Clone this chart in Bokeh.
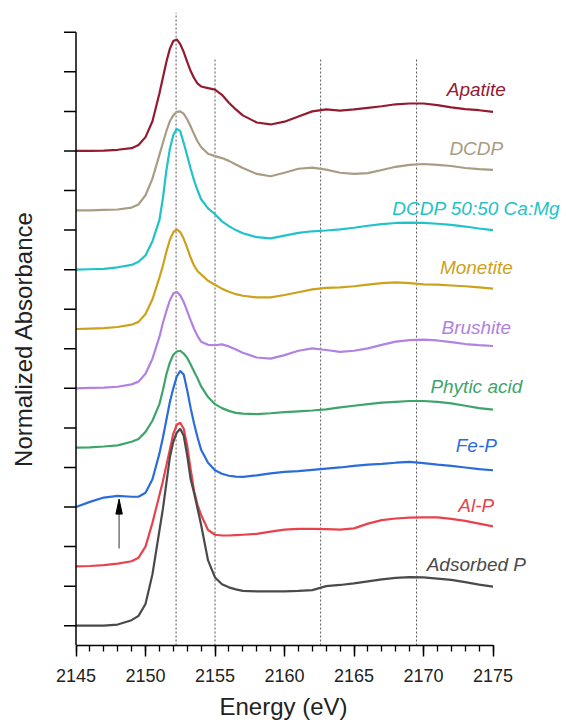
import math
from bokeh.plotting import figure
from bokeh.models import Range1d, SingleIntervalTicker, ColumnDataSource
from bokeh.embed import file_html
from bokeh.resources import INLINE
from bokeh.core.properties import value

# Photon energy grid (eV), denser across the white line
energy = [2145, 2146, 2147, 2148, 2149, 2149.5, 2150, 2150.5, 2151, 2151.25, 2151.5,
          2151.75, 2152, 2152.25, 2152.5, 2152.75, 2153, 2153.25, 2153.5, 2153.75,
          2154, 2154.5, 2155, 2155.5, 2156, 2156.5, 2157, 2158, 2159, 2160, 2161,
          2162, 2163, 2164, 2165, 2166, 2167, 2168, 2169, 2170, 2171, 2172, 2173,
          2174, 2175]

# Normalized absorbance of each reference spectrum (before vertical stacking)
apatite = [0, 0.0, 0.01, 0.03, 0.07, 0.15, 0.35, 0.75, 1.45, 1.85, 2.25,
           2.58, 2.78, 2.82, 2.7, 2.5, 2.25, 2.02, 1.84, 1.7,
           1.63, 1.59, 1.55, 1.42, 1.22, 1.05, 0.9, 0.72, 0.67, 0.74, 0.87,
           1.0, 1.05, 1.02, 1.05, 1.09, 1.13, 1.18, 1.2, 1.2, 1.16, 1.1, 1.06,
           1.03, 0.99]
dcdp = [0, 0, 0.01, 0.02, 0.07, 0.15, 0.38, 0.8, 1.4, 1.7, 2.0,
        2.25, 2.4, 2.49, 2.5, 2.44, 2.3, 2.12, 1.92, 1.74,
        1.6, 1.43, 1.37, 1.32, 1.25, 1.16, 1.07, 0.92, 0.86, 0.95, 1.05,
        1.08, 1.03, 0.95, 0.92, 0.94, 1.02, 1.1, 1.15, 1.17, 1.15, 1.12, 1.07,
        1.04, 1.02]
dcdp_camg = [0, 0.01, 0.02, 0.06, 0.12, 0.2, 0.36, 0.72, 1.25, 1.8, 2.5,
             3.05, 3.4, 3.56, 3.5, 3.2, 2.88, 2.55, 2.25, 2.0,
             1.78, 1.55, 1.4, 1.22, 1.1, 1.0, 0.92, 0.82, 0.79, 0.86, 0.93,
             0.97, 0.99, 1.02, 1.06, 1.11, 1.15, 1.18, 1.19, 1.18, 1.16, 1.13, 1.09,
             1.04, 1.0]
monetite = [0, 0.01, 0.02, 0.05, 0.11, 0.18, 0.38, 0.75, 1.3, 1.6, 1.95,
            2.25, 2.45, 2.52, 2.45, 2.28, 2.05, 1.8, 1.6, 1.46,
            1.38, 1.22, 1.12, 1.02, 0.94, 0.88, 0.84, 0.8, 0.8, 0.86, 0.93,
            1.0, 1.04, 1.05, 1.08, 1.12, 1.16, 1.18, 1.16, 1.13, 1.12, 1.1, 1.08,
            1.05, 1.02]
brushite = [0, 0.01, 0.02, 0.04, 0.1, 0.17, 0.37, 0.75, 1.3, 1.65, 1.95,
            2.22, 2.4, 2.44, 2.35, 2.18, 1.95, 1.72, 1.5, 1.32,
            1.18, 1.1, 1.09, 1.11, 1.06, 0.98, 0.9, 0.78, 0.75, 0.84, 0.95,
            1.01, 0.97, 0.92, 0.95, 1.01, 1.1, 1.18, 1.22, 1.23, 1.21, 1.17, 1.12,
            1.09, 1.07]
phytic = [0, 0.01, 0.03, 0.06, 0.15, 0.22, 0.4, 0.68, 1.1, 1.45, 1.85,
          2.15, 2.35, 2.43, 2.45, 2.38, 2.27, 2.1, 1.92, 1.75,
          1.55, 1.28, 1.1, 1.0, 0.93, 0.88, 0.86, 0.85, 0.87, 0.9, 0.92,
          0.94, 0.97, 1.02, 1.06, 1.1, 1.14, 1.16, 1.18, 1.18, 1.16, 1.12, 1.06,
          1.0, 0.96]
fe_p = [0, 0.13, 0.24, 0.28, 0.26, 0.26, 0.36, 0.7, 1.35, 1.75, 2.2,
        2.65, 3.0, 3.3, 3.44, 3.35, 2.95, 2.5, 2.1, 1.75,
        1.45, 1.12, 0.93, 0.84, 0.79, 0.77, 0.76, 0.8, 0.85, 0.89, 0.91,
        0.94, 0.97, 1.0, 1.04, 1.07, 1.09, 1.12, 1.14, 1.11, 1.07, 1.04, 1.0,
        0.96, 0.93]
al_p = [0, 0.01, 0.03, 0.07, 0.13, 0.22, 0.5, 1.1, 1.8, 2.15, 2.55,
        2.95, 3.35, 3.58, 3.63, 3.48, 3.05, 2.45, 1.9, 1.55,
        1.3, 0.92, 0.8, 0.78, 0.78, 0.79, 0.8, 0.82, 0.88, 0.93, 0.95,
        0.95, 0.94, 0.93, 0.96, 1.08, 1.17, 1.21, 1.23, 1.24, 1.24, 1.2, 1.15,
        1.08, 1.01]
adsorbed = [0, 0, 0.0, 0.03, 0.14, 0.25, 0.55, 1.3, 2.4, 2.95, 3.6,
            4.25, 4.65, 4.88, 4.98, 4.8, 4.3, 3.7, 3.35, 2.95,
            2.55, 1.65, 1.22, 1.05, 0.97, 0.92, 0.88, 0.87, 0.87, 0.87, 0.88,
            0.9, 1.0, 1.03, 1.07, 1.12, 1.17, 1.21, 1.23, 1.22, 1.19, 1.16, 1.1,
            1.04, 0.99]

names = ["Apatite", "DCDP", "DCDP 50:50 Ca:Mg", "Monetite", "Brushite",
         "Phytic acid", "Fe-P", "Al-P", "Adsorbed P"]
spectra = [apatite, dcdp, dcdp_camg, monetite, brushite, phytic, fe_p, al_p, adsorbed]
stack_offsets = [12, 10.5, 9, 7.5, 6, 4.5, 3, 1.5, 0]
colors = ["#931B30", "#A99C84", "#22C3C8", "#CCA11C", "#B182E0",
          "#3EA46B", "#2A6CDC", "#E8424C", "#4A4A4A"]

# Reference feature energies (dotted guides) and their upper ends
feature_energy = [2152.2, 2155.0, 2162.6, 2169.5]
feature_top = [15.5, 14.35, 14.35, 14.35]

# Pre-edge arrow on the Fe-P spectrum
arrow_energy = 2148.1
arrow_tail = 1.95
arrow_tip = 3.2

# Unlabelled absorbance ticks
y_ticks = list(range(16))

E_MIN, E_MAX = 2145, 2175
Y_AXIS_MIN, Y_AXIS_MAX = -0.5, 15
PX_PER_EV = 13.9
LEFT_PAD_PX = 75.5
W, H = 566, 723
BOTTOM, TOP = 78, 12
FRAME_H = H - BOTTOM - TOP
Y0, Y1 = -0.5, 15.5
X0 = E_MIN - LEFT_PAD_PX / PX_PER_EV
X1 = X0 + W / PX_PER_EV
PX_PER_UNIT = FRAME_H / (Y1 - Y0)
FONT = "Liberation Sans"

p = figure(width=W, height=H, output_backend="svg", toolbar_location=None,
           x_range=Range1d(X0, X1), y_range=Range1d(Y0, Y1),
           min_border_left=0, min_border_right=0, min_border_top=TOP,
           min_border_bottom=BOTTOM)
p.outline_line_color = None
p.xgrid.visible = False
p.ygrid.visible = False
p.yaxis.visible = False
p.background_fill_color = "white"
p.border_fill_color = "white"

# dotted guides at characteristic energies
p.segment(x0=feature_energy, y0=[Y0] * len(feature_energy),
          x1=feature_energy, y1=feature_top,
          line_color="#555555", line_width=1, line_dash="2 2")

# stacked spectra
for spec, off, col in zip(spectra, stack_offsets, colors):
    p.line(energy, [v + off for v in spec], line_color=col, line_width=2.2)

# spectrum names
label_src = ColumnDataSource(dict(
    x=[2173.8] * len(names),
    y=[off + 1.55 for off in stack_offsets],
    text=names,
    color=colors,
))
p.text(x="x", y="y", text="text", text_color="color", source=label_src,
       text_font=value(FONT), text_font_style="italic", text_font_size="19px",
       text_align="center", text_baseline="middle")

# arrow: shaft plus a narrow filled head
head_half = 3.2 / PX_PER_EV
head_len = 15.0 / PX_PER_UNIT
p.segment(x0=[arrow_energy], y0=[arrow_tail], x1=[arrow_energy],
          y1=[arrow_tip - head_len], line_color="#555555", line_width=1.2)
p.patch([arrow_energy - head_half, arrow_energy, arrow_energy + head_half],
        [arrow_tip - head_len, arrow_tip, arrow_tip - head_len],
        fill_color="black", line_color="black", line_width=1)

# y axis: spine and outward ticks
tick_len = 12 / PX_PER_EV
p.segment(x0=[E_MIN], y0=[Y_AXIS_MIN], x1=[E_MIN], y1=[Y_AXIS_MAX],
          line_color="black", line_width=1.5)
p.segment(x0=[E_MIN - tick_len] * len(y_ticks), y0=y_ticks,
          x1=[E_MIN] * len(y_ticks), y1=y_ticks,
          line_color="black", line_width=1.5)
p.text(x=[X0 + 23 / PX_PER_EV], y=[(Y_AXIS_MIN + Y_AXIS_MAX) / 2],
       text=["Normalized Absorbance"], angle=math.pi / 2,
       text_font=value(FONT), text_font_size="24px", text_color="#222222",
       text_align="center", text_baseline="middle")

# x axis
xa = p.xaxis[0]
xa.ticker = SingleIntervalTicker(interval=5, num_minor_ticks=5)
xa.bounds = (E_MIN, E_MAX)
xa.axis_line_width = 1.5
xa.axis_line_color = "black"
xa.major_tick_line_color = "black"
xa.major_tick_line_width = 1.5
xa.major_tick_in = 0
xa.major_tick_out = 11
xa.minor_tick_line_color = "black"
xa.minor_tick_line_width = 1.3
xa.minor_tick_in = 0
xa.minor_tick_out = 6
xa.major_label_text_font = FONT
xa.major_label_text_font_size = "18px"
xa.major_label_text_color = "#222222"
xa.major_label_standoff = 12
xa.axis_label = "Energy (eV)"
xa.axis_label_text_font = FONT
xa.axis_label_text_font_size = "24px"
xa.axis_label_text_font_style = "normal"
xa.axis_label_text_color = "#222222"
xa.axis_label_standoff = 8

open("out.html", "w").write(file_html(p, INLINE))
